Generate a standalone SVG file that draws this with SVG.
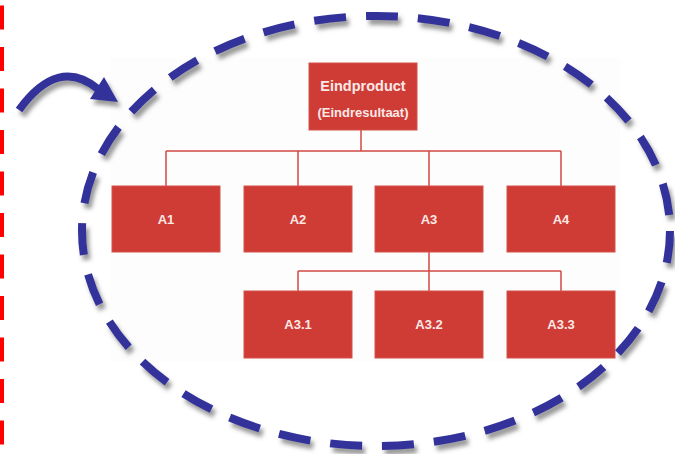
<svg xmlns="http://www.w3.org/2000/svg" width="675" height="454" viewBox="0 0 675 454">
<defs>
<filter id="sh" x="-30%" y="-30%" width="160%" height="160%">
<feDropShadow dx="3" dy="5" stdDeviation="2.2" flood-color="#555" flood-opacity="0.6"/>
</filter>
<style>
.box{fill:#cf3b35;stroke:#d6524c;stroke-width:1}
.lbl{font-family:"Liberation Sans",Arial,sans-serif;font-weight:bold;fill:#fbe9e7;text-anchor:middle}
.con{stroke:#cf4a45;stroke-width:1.5;fill:none}
.blue{stroke:#33339a;fill:none;stroke-width:8}
</style>
</defs>
<rect width="675" height="454" fill="#ffffff"/>
<rect x="110" y="58" width="510" height="304" fill="#fdfdfd"/>
<line x1="2" y1="-36" x2="2" y2="470" stroke="#ff0000" stroke-width="4" stroke-dasharray="24 17.5"/>
<g id="connectors">
<path class="con" d="M361,130 V151 M166,151 H561 M166,151 V186 M298,151 V186 M429,151 V186 M561,151 V186"/>
<path class="con" d="M429,252 V291 M298,271 H561 M298,271 V291 M561,271 V291"/>
</g>
<g id="eindproduct">
<rect class="box" x="309" y="63" width="108" height="67"/>
<text class="lbl" x="363" y="91" font-size="14.5">Eindproduct</text>
<text class="lbl" x="363" y="117" font-size="13">(Eindresultaat)</text>
</g>
<g id="A1"><rect class="box" x="112" y="186" width="108" height="66"/><text class="lbl" x="166" y="223.5" font-size="13">A1</text></g>
<g id="A2"><rect class="box" x="244" y="186" width="108" height="66"/><text class="lbl" x="298" y="223.5" font-size="13">A2</text></g>
<g id="A3"><rect class="box" x="375" y="186" width="108" height="66"/><text class="lbl" x="429" y="223.5" font-size="13">A3</text></g>
<g id="A4"><rect class="box" x="507" y="186" width="108" height="66"/><text class="lbl" x="561" y="223.5" font-size="13">A4</text></g>
<g id="A3.1"><rect class="box" x="244" y="291" width="108" height="67"/><text class="lbl" x="298" y="328.5" font-size="13">A3.1</text></g>
<g id="A3.2"><rect class="box" x="375" y="291" width="108" height="67"/><text class="lbl" x="429" y="328.5" font-size="13">A3.2</text></g>
<g id="A3.3"><rect class="box" x="507" y="291" width="108" height="67"/><text class="lbl" x="561" y="328.5" font-size="13">A3.3</text></g>
<g id="ellipse" filter="url(#sh)">
<ellipse class="blue" cx="376" cy="231" rx="294" ry="215" stroke-dasharray="32 20"/>
</g>
<g id="arrow" filter="url(#sh)">
<path class="blue" d="M19,110 Q58,56 98,89"/>
<polygon points="118,102 90,99 104,77" fill="#33339a"/>
</g>
</svg>
